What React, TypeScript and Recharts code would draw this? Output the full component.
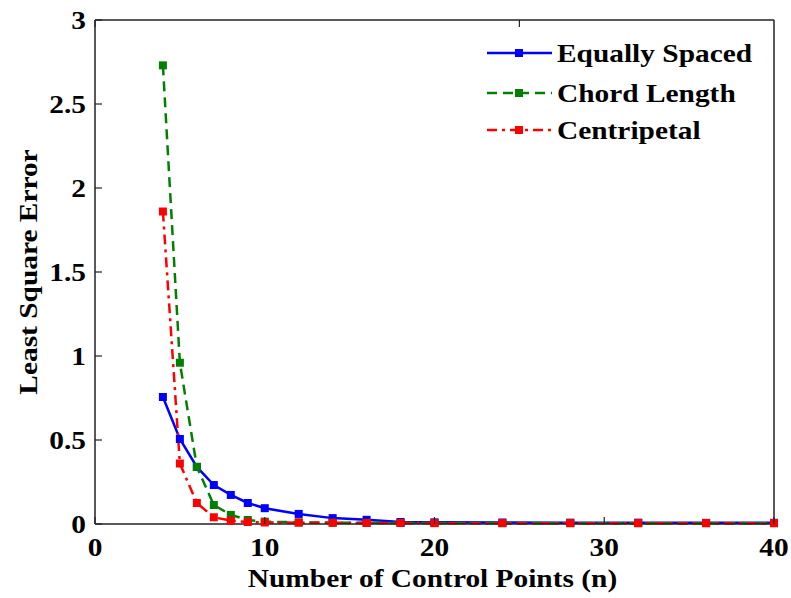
import { LineChart, Line, XAxis, YAxis, Legend } from 'recharts'

const nPoints = [4, 5, 6, 7, 8, 9, 10, 12, 14, 16, 18, 20, 24, 28, 32, 36, 40]
const equallySpaced = [0.756, 0.506, 0.34, 0.232, 0.173, 0.125, 0.094, 0.06, 0.035, 0.025, 0.012, 0.01, 0.009, 0.008, 0.008, 0.007, 0.007]
const chordLength = [2.73, 0.96, 0.34, 0.113, 0.054, 0.024, 0.014, 0.01, 0.008, 0.007, 0.006, 0.006, 0.005, 0.005, 0.005, 0.005, 0.005]
const centripetal = [1.86, 0.36, 0.125, 0.04, 0.02, 0.012, 0.009, 0.008, 0.007, 0.006, 0.006, 0.005, 0.005, 0.005, 0.005, 0.005, 0.005]

const xTicks = [0, 10, 20, 30, 40]
const yTicks = [0, 0.5, 1, 1.5, 2, 2.5, 3]

const series = [
  { key: 'equal', name: 'Equally Spaced', color: '#0000ff', dash: undefined as string | undefined },
  { key: 'chord', name: 'Chord Length', color: '#008000', dash: '10 6' },
  { key: 'centri', name: 'Centripetal', color: '#ff0000', dash: '10 5 3 5' },
]

const data = nPoints.map((n, i) => ({
  n,
  equal: equallySpaced[i],
  chord: chordLength[i],
  centri: centripetal[i],
}))

const FONT = '"Liberation Serif", "Times New Roman", serif'
const FS = 26
const SX = 1.13
const FRAME = '#222'
const TICK = 7

function BottomTick({ x, y, payload }: any) {
  return (
    <g>
      <line x1={x} y1={y} x2={x} y2={y - TICK} stroke={FRAME} strokeWidth={1.2} />
      <text transform={`translate(${x},${y + 32}) scale(${SX},1)`} textAnchor="middle"
        fontFamily={FONT} fontWeight="bold" fontSize={FS} fill="#000">{payload.value}</text>
    </g>
  )
}

function TopTick({ x, y }: any) {
  return <line x1={x} y1={y} x2={x} y2={y + TICK} stroke={FRAME} strokeWidth={1.2} />
}

function LeftTick({ x, y, payload }: any) {
  return (
    <g>
      <line x1={x} y1={y} x2={x + TICK} y2={y} stroke={FRAME} strokeWidth={1.2} />
      <text transform={`translate(${x - 9},${y + 9}) scale(${SX},1)`} textAnchor="end"
        fontFamily={FONT} fontWeight="bold" fontSize={FS} fill="#000">{payload.value}</text>
    </g>
  )
}

function RightTick({ x, y }: any) {
  return <line x1={x} y1={y} x2={x - TICK} y2={y} stroke={FRAME} strokeWidth={1.2} />
}

function SquareDot(color: string) {
  return (props: any) => {
    const { cx, cy, index } = props
    if (cx == null || cy == null) return <g key={index} />
    return <rect key={index} x={cx - 4} y={cy - 4} width={8} height={8} fill={color} />
  }
}

function LegendBox() {
  const rows = [25, 65, 102]
  return (
    <svg width={300} height={120}>
      {series.map((s, i) => (
        <g key={s.key}>
          <line x1={7} y1={rows[i]} x2={72} y2={rows[i]} stroke={s.color} strokeWidth={2.5} strokeDasharray={s.dash} />
          <rect x={35} y={rows[i] - 4} width={8} height={8} fill={s.color} />
          <text transform={`translate(77,${rows[i] + 9}) scale(${SX},1)`} fontFamily={FONT} fontWeight="bold"
            fontSize={FS} fill="#000">{s.name}</text>
        </g>
      ))}
    </svg>
  )
}

export default function App() {
  return (
    <div style={{ position: 'absolute', left: 0, top: 0, background: '#fff' }}>
      <LineChart width={791} height={598} data={data} margin={{ top: 0, right: 0, bottom: 0, left: 0 }}>
        <XAxis dataKey="n" type="number" domain={[0, 40]} ticks={xTicks} height={74}
          tickSize={0} tickMargin={0} tickLine={false} axisLine={{ stroke: FRAME, strokeWidth: 1.5 }}
          tick={<BottomTick />} interval={0}
          label={{
            content: (p: any) => {
              const vb = p.viewBox
              return (
                <text transform={`translate(${vb.x + vb.width / 2 - 2},${vb.y + 63}) scale(${SX},1)`}
                  textAnchor="middle" fontFamily={FONT} fontWeight="bold" fontSize={FS} fill="#000">
                  Number of Control Points (n)
                </text>
              )
            },
          }} />
        <XAxis xAxisId="top" orientation="top" type="number" domain={[0, 40]} ticks={xTicks} height={20}
          tickSize={0} tickMargin={0} tickLine={false} axisLine={{ stroke: FRAME, strokeWidth: 1.5 }}
          tick={<TopTick />} interval={0} />
        <YAxis type="number" domain={[0, 3]} ticks={yTicks} width={95}
          tickSize={0} tickMargin={0} tickLine={false} axisLine={{ stroke: FRAME, strokeWidth: 1.5 }}
          tick={<LeftTick />} interval={0}
          label={{
            content: (p: any) => {
              const vb = p.viewBox
              return (
                <text transform={`translate(${vb.x + 37},${vb.y + vb.height / 2}) rotate(-90) scale(${SX},1)`}
                  textAnchor="middle" fontFamily={FONT} fontWeight="bold" fontSize={FS} fill="#000">
                  Least Square Error
                </text>
              )
            },
          }} />
        <YAxis yAxisId="right" orientation="right" type="number" domain={[0, 3]} ticks={yTicks} width={17}
          tickSize={0} tickMargin={0} tickLine={false} axisLine={{ stroke: FRAME, strokeWidth: 1.5 }}
          tick={<RightTick />} interval={0} />
        <Legend layout="vertical" align="center" verticalAlign="middle" content={() => <LegendBox />}
          wrapperStyle={{ left: 480, top: 28, width: 300, height: 120 }} />
        {series.map((s) => (
          <Line key={s.key} dataKey={s.key} name={s.name} type="linear" stroke={s.color} strokeWidth={2.5}
            strokeDasharray={s.dash} dot={SquareDot(s.color)} activeDot={false} isAnimationActive={false} />
        ))}
      </LineChart>
    </div>
  )
}
